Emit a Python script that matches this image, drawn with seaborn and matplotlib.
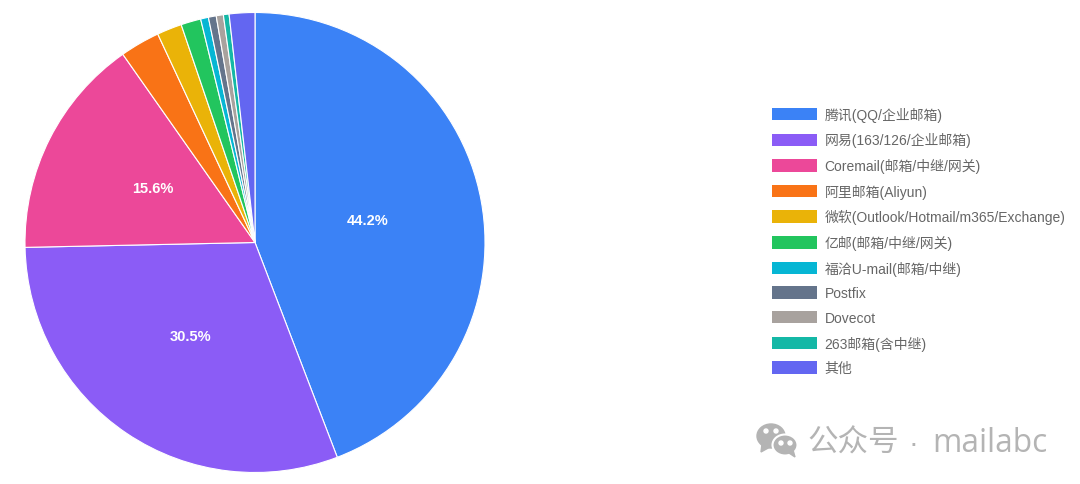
import matplotlib
matplotlib.use('Agg')
import matplotlib.pyplot as plt
import seaborn as sns
from matplotlib.patches import Ellipse, Polygon, Patch

# Values
labels = ['腾讯(QQ/企业邮箱)', '网易(163/126/企业邮箱)', 'Coremail(邮箱/中继/网关)', '阿里邮箱(Aliyun)',
          '微软(Outlook/Hotmail/m365/Exchange)', '亿邮(邮箱/中继/网关)', '福洽U-mail(邮箱/中继)',
          'Postfix', 'Dovecot', '263邮箱(含中继)', '其他']
shares = [44.2, 30.5, 15.6, 2.8, 1.75, 1.4, 0.55, 0.55, 0.5, 0.4, 1.8]
colors = ['#3b82f6', '#8b5cf6', '#ec4899', '#f97316', '#eab308', '#22c55e',
          '#06b6d4', '#64748b', '#a8a29e', '#14b8a6', '#6366f1']

sns.set_theme(style='white')
plt.rcParams['font.family'] = ['Liberation Sans', 'Noto Sans CJK SC', 'DejaVu Sans']

W, H = 1080, 485
fig = plt.figure(figsize=(W / 100, H / 100), dpi=100, facecolor='white')

# Pie: centre (255, 243), radius 230 px
ax = fig.add_axes([25 / W, (H - 473.5) / H, 460 / W, 460 / H])
wedges, _, autotexts = ax.pie(
    shares, colors=sns.color_palette(colors), startangle=90, counterclock=False,
    radius=1, autopct=lambda p: f'{p:.1f}%' if p > 5 else '', pctdistance=0.5,
    wedgeprops={'edgecolor': 'white', 'linewidth': 0.8},
    textprops={'color': 'white', 'fontsize': 10.5, 'fontweight': 'bold'})
ax.set_xlim(-1, 1)
ax.set_ylim(-1, 1)
ax.set_aspect('equal')
ax.axis('off')

# nudge the percent labels up a little
for t in autotexts:
    t.set_y(t.get_position()[1] + 0.009)

# Legend on the right
handles = [Patch(facecolor=c, edgecolor='none') for c in colors]
fig.legend(handles, labels, loc='upper left', bbox_to_anchor=(765 / W, 1 - 101 / H),
           bbox_transform=fig.transFigure, frameon=False, fontsize=10,
           labelcolor='#666666', handlelength=3.25, handleheight=1.0,
           handletextpad=0.55, labelspacing=0.76, borderpad=0.5, borderaxespad=0)

# Watermark, drawn in a full-figure pixel axes
wm = fig.add_axes([0, 0, 1, 1], facecolor='none')
wm.set_xlim(0, W)
wm.set_ylim(H, 0)
wm.axis('off')
grey = '#b4b4b4'
wm.add_patch(Ellipse((771, 437), 28, 24, color=grey, zorder=2))
wm.add_patch(Polygon([[762, 445], [761, 453], [770, 448]], color=grey, zorder=2))
wm.add_patch(Ellipse((785, 446), 25, 21, color=grey, ec='white', lw=1.5, zorder=3))
wm.add_patch(Polygon([[789, 454], [795, 458], [793, 451]], color=grey, zorder=3))
for x, y, z in [(766, 432, 4), (776, 432, 4), (781, 444, 4), (790, 444, 4)]:
    wm.add_patch(Ellipse((x, y), 4, 4, color='white', zorder=z))
wm.text(807, 444, '公众号', fontsize=22, color=grey, va='center', ha='left')
wm.text(913, 444, '·', fontsize=21, color=grey, va='center', ha='center')
wm.text(932, 444, 'mailabc', fontsize=22.8, color=grey, va='center', ha='left',
        family=['Open Sans', 'DejaVu Sans'])

fig.savefig('out.png', dpi=100, facecolor='white')
